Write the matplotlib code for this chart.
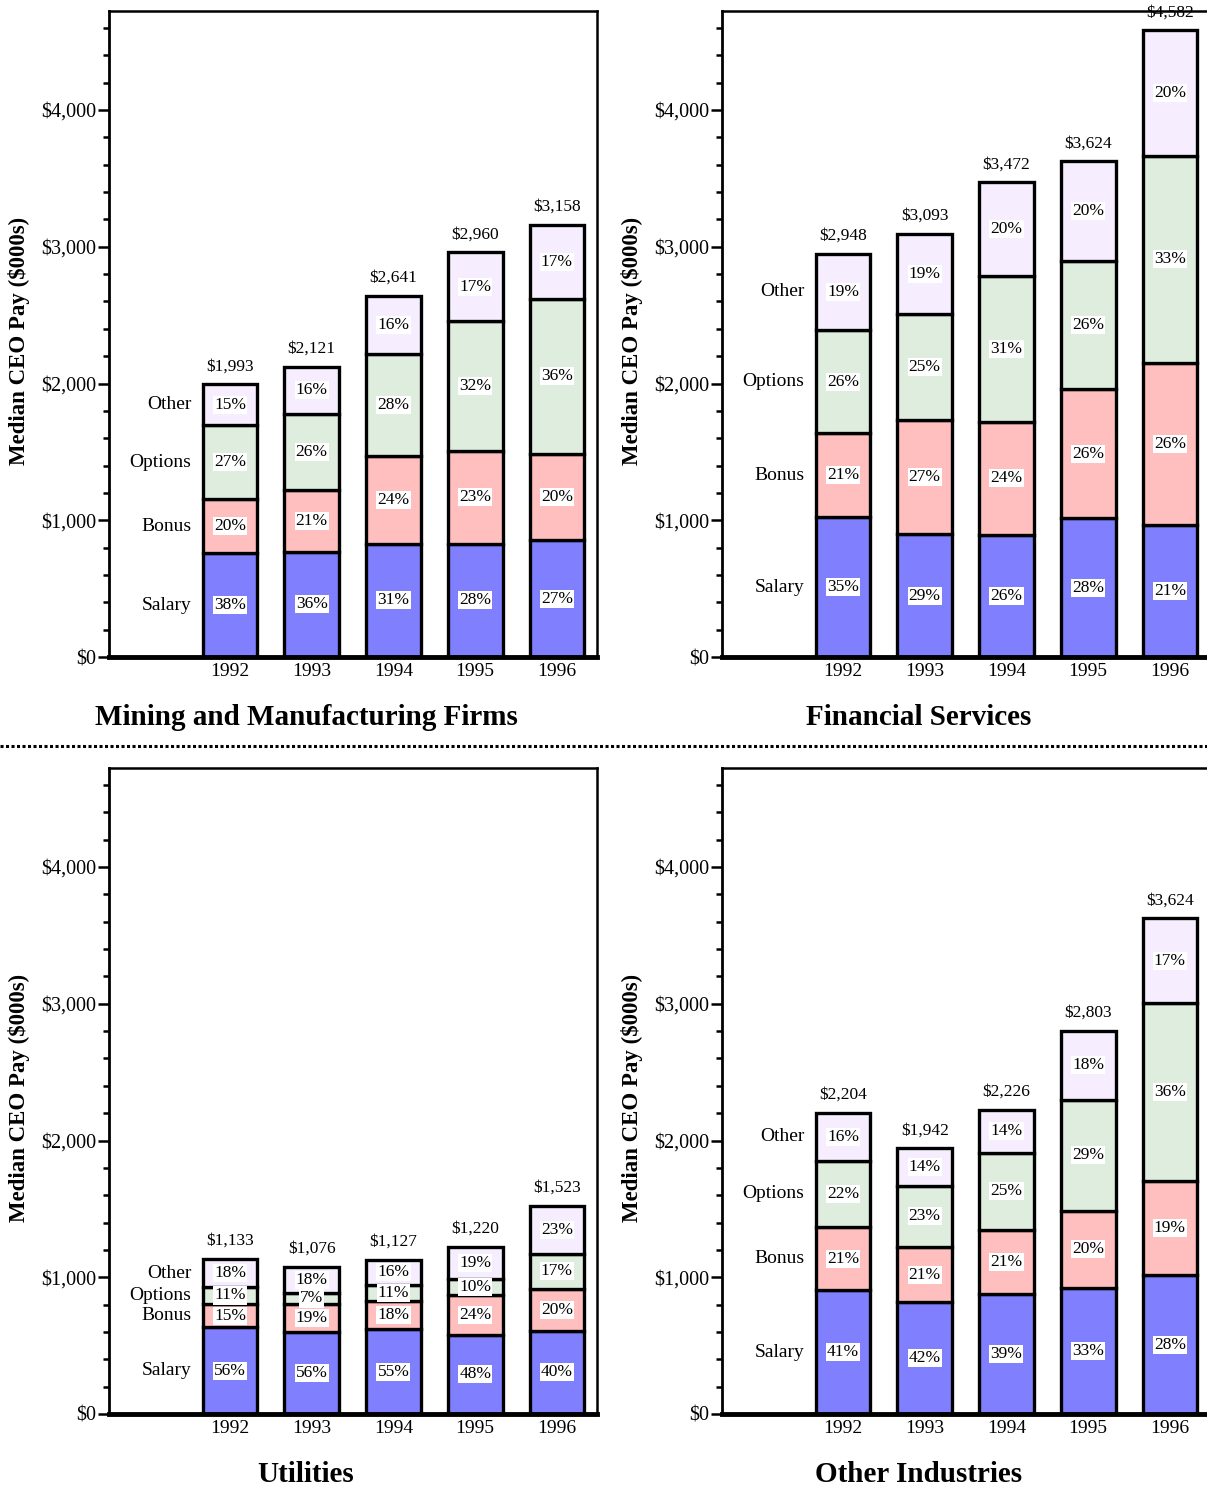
import matplotlib
matplotlib.use("Agg")
import matplotlib.pyplot as plt
from matplotlib.lines import Line2D
from matplotlib.ticker import MultipleLocator, FuncFormatter
import numpy as np

plt.rcParams['font.family'] = ['Liberation Serif', 'DejaVu Serif']

years = ["1992", "1993", "1994", "1995", "1996"]
components = ["Salary", "Bonus", "Options", "Other"]
colors = ["#8080FF", "#FFBFBF", "#DEEDDE", "#F6EEFF"]

# Mining and Manufacturing Firms
mining_total = [1993, 2121, 2641, 2960, 3158]
mining_salary = [38, 36, 31, 28, 27]
mining_bonus = [20, 21, 24, 23, 20]
mining_options = [27, 26, 28, 32, 36]
mining_other = [15, 16, 16, 17, 17]

# Financial Services
fin_total = [2948, 3093, 3472, 3624, 4582]
fin_salary = [35, 29, 26, 28, 21]
fin_bonus = [21, 27, 24, 26, 26]
fin_options = [26, 25, 31, 26, 33]
fin_other = [19, 19, 20, 20, 20]

# Utilities
util_total = [1133, 1076, 1127, 1220, 1523]
util_salary = [56, 56, 55, 48, 40]
util_bonus = [15, 19, 18, 24, 20]
util_options = [11, 7, 11, 10, 17]
util_other = [18, 18, 16, 19, 23]

# Other Industries
oth_total = [2204, 1942, 2226, 2803, 3624]
oth_salary = [41, 42, 39, 33, 28]
oth_bonus = [21, 21, 21, 20, 19]
oth_options = [22, 23, 25, 29, 36]
oth_other = [16, 14, 14, 18, 17]

panels = [
    ("Mining and Manufacturing Firms", mining_total,
     [mining_salary, mining_bonus, mining_options, mining_other]),
    ("Financial Services", fin_total,
     [fin_salary, fin_bonus, fin_options, fin_other]),
    ("Utilities", util_total,
     [util_salary, util_bonus, util_options, util_other]),
    ("Other Industries", oth_total,
     [oth_salary, oth_bonus, oth_options, oth_other]),
]

W, H = 1207, 1488
fig = plt.figure(figsize=(W / 100, H / 100), dpi=100)

ax_w = 488 / W
ax_h = 646 / H
lefts = [109 / W, 722 / W]
bottoms = [1 - 657 / H, 1 - 1414 / H]

YMAX = 4724
x = np.arange(len(years))
bar_w = 0.67

for i, (title, total, pcts) in enumerate(panels):
    col = i % 2
    row = i // 2
    ax = fig.add_axes([lefts[col], bottoms[row], ax_w, ax_h])
    ax.set_xlim(-1.48, 4.49)
    ax.set_ylim(0, YMAX)

    total = np.array(total, dtype=float)
    P = np.array(pcts, dtype=float)
    psum = P.sum(axis=0)
    vals = total * P / psum
    bottom = np.zeros(len(years))
    for k in range(len(components)):
        ax.bar(x, vals[k], bar_w, bottom=bottom, color=colors[k],
               edgecolor="black", linewidth=2.4, zorder=2)
        for j in range(len(years)):
            yc = bottom[j] + vals[k][j] / 2
            ax.text(x[j], yc, f"{int(P[k][j])}%", ha="center", va="center",
                    fontsize=12.5, zorder=4,
                    bbox=dict(facecolor="white", edgecolor="none", pad=0.8))
        ax.text(-0.47, bottom[0] + vals[k][0] / 2, components[k],
                ha="right", va="center", fontsize=14, zorder=4)
        bottom = bottom + vals[k]

    for j in range(len(years)):
        ax.annotate(f"${int(total[j]):,}", (x[j], total[j]),
                    xytext=(0, 13), textcoords="offset points",
                    ha="center", va="center", fontsize=12.5,
                    annotation_clip=False, zorder=5)

    ax.set_xticks(x)
    ax.set_xticklabels(years, fontsize=14)
    ax.tick_params(axis="x", length=0, pad=4)
    ax.yaxis.set_major_locator(MultipleLocator(1000))
    ax.yaxis.set_minor_locator(MultipleLocator(200))
    ax.yaxis.set_major_formatter(FuncFormatter(lambda v, p: f"${int(v):,}"))
    ax.tick_params(axis="y", which="major", length=8, width=1.8,
                   labelsize=14.5, pad=1)
    ax.tick_params(axis="y", which="minor", length=4, width=1.8)
    for s in ["top", "right"]:
        ax.spines[s].set_linewidth(1.8)
    ax.spines["left"].set_linewidth(2.0)
    ax.spines["bottom"].set_linewidth(3.5)
    ax.spines["bottom"].set_zorder(6)

    ax.set_ylabel("Median CEO Pay ($000s)", fontsize=16.5, fontweight="bold")
    ax.yaxis.set_label_coords(-0.162, 0.49)

    cx = lefts[col] + (306 - 109) / W
    ty = 1 - (717 if row == 0 else 1474) / H
    fig.text(cx, ty, title, ha="center", va="center", fontsize=21,
             fontweight="bold")

fig.add_artist(Line2D([0, 1], [1 - 746 / H, 1 - 746 / H],
                      transform=fig.transFigure, color="black",
                      linewidth=2.2, linestyle=(0, (1.0, 0.8))))

fig.savefig("out.png", dpi=100)
